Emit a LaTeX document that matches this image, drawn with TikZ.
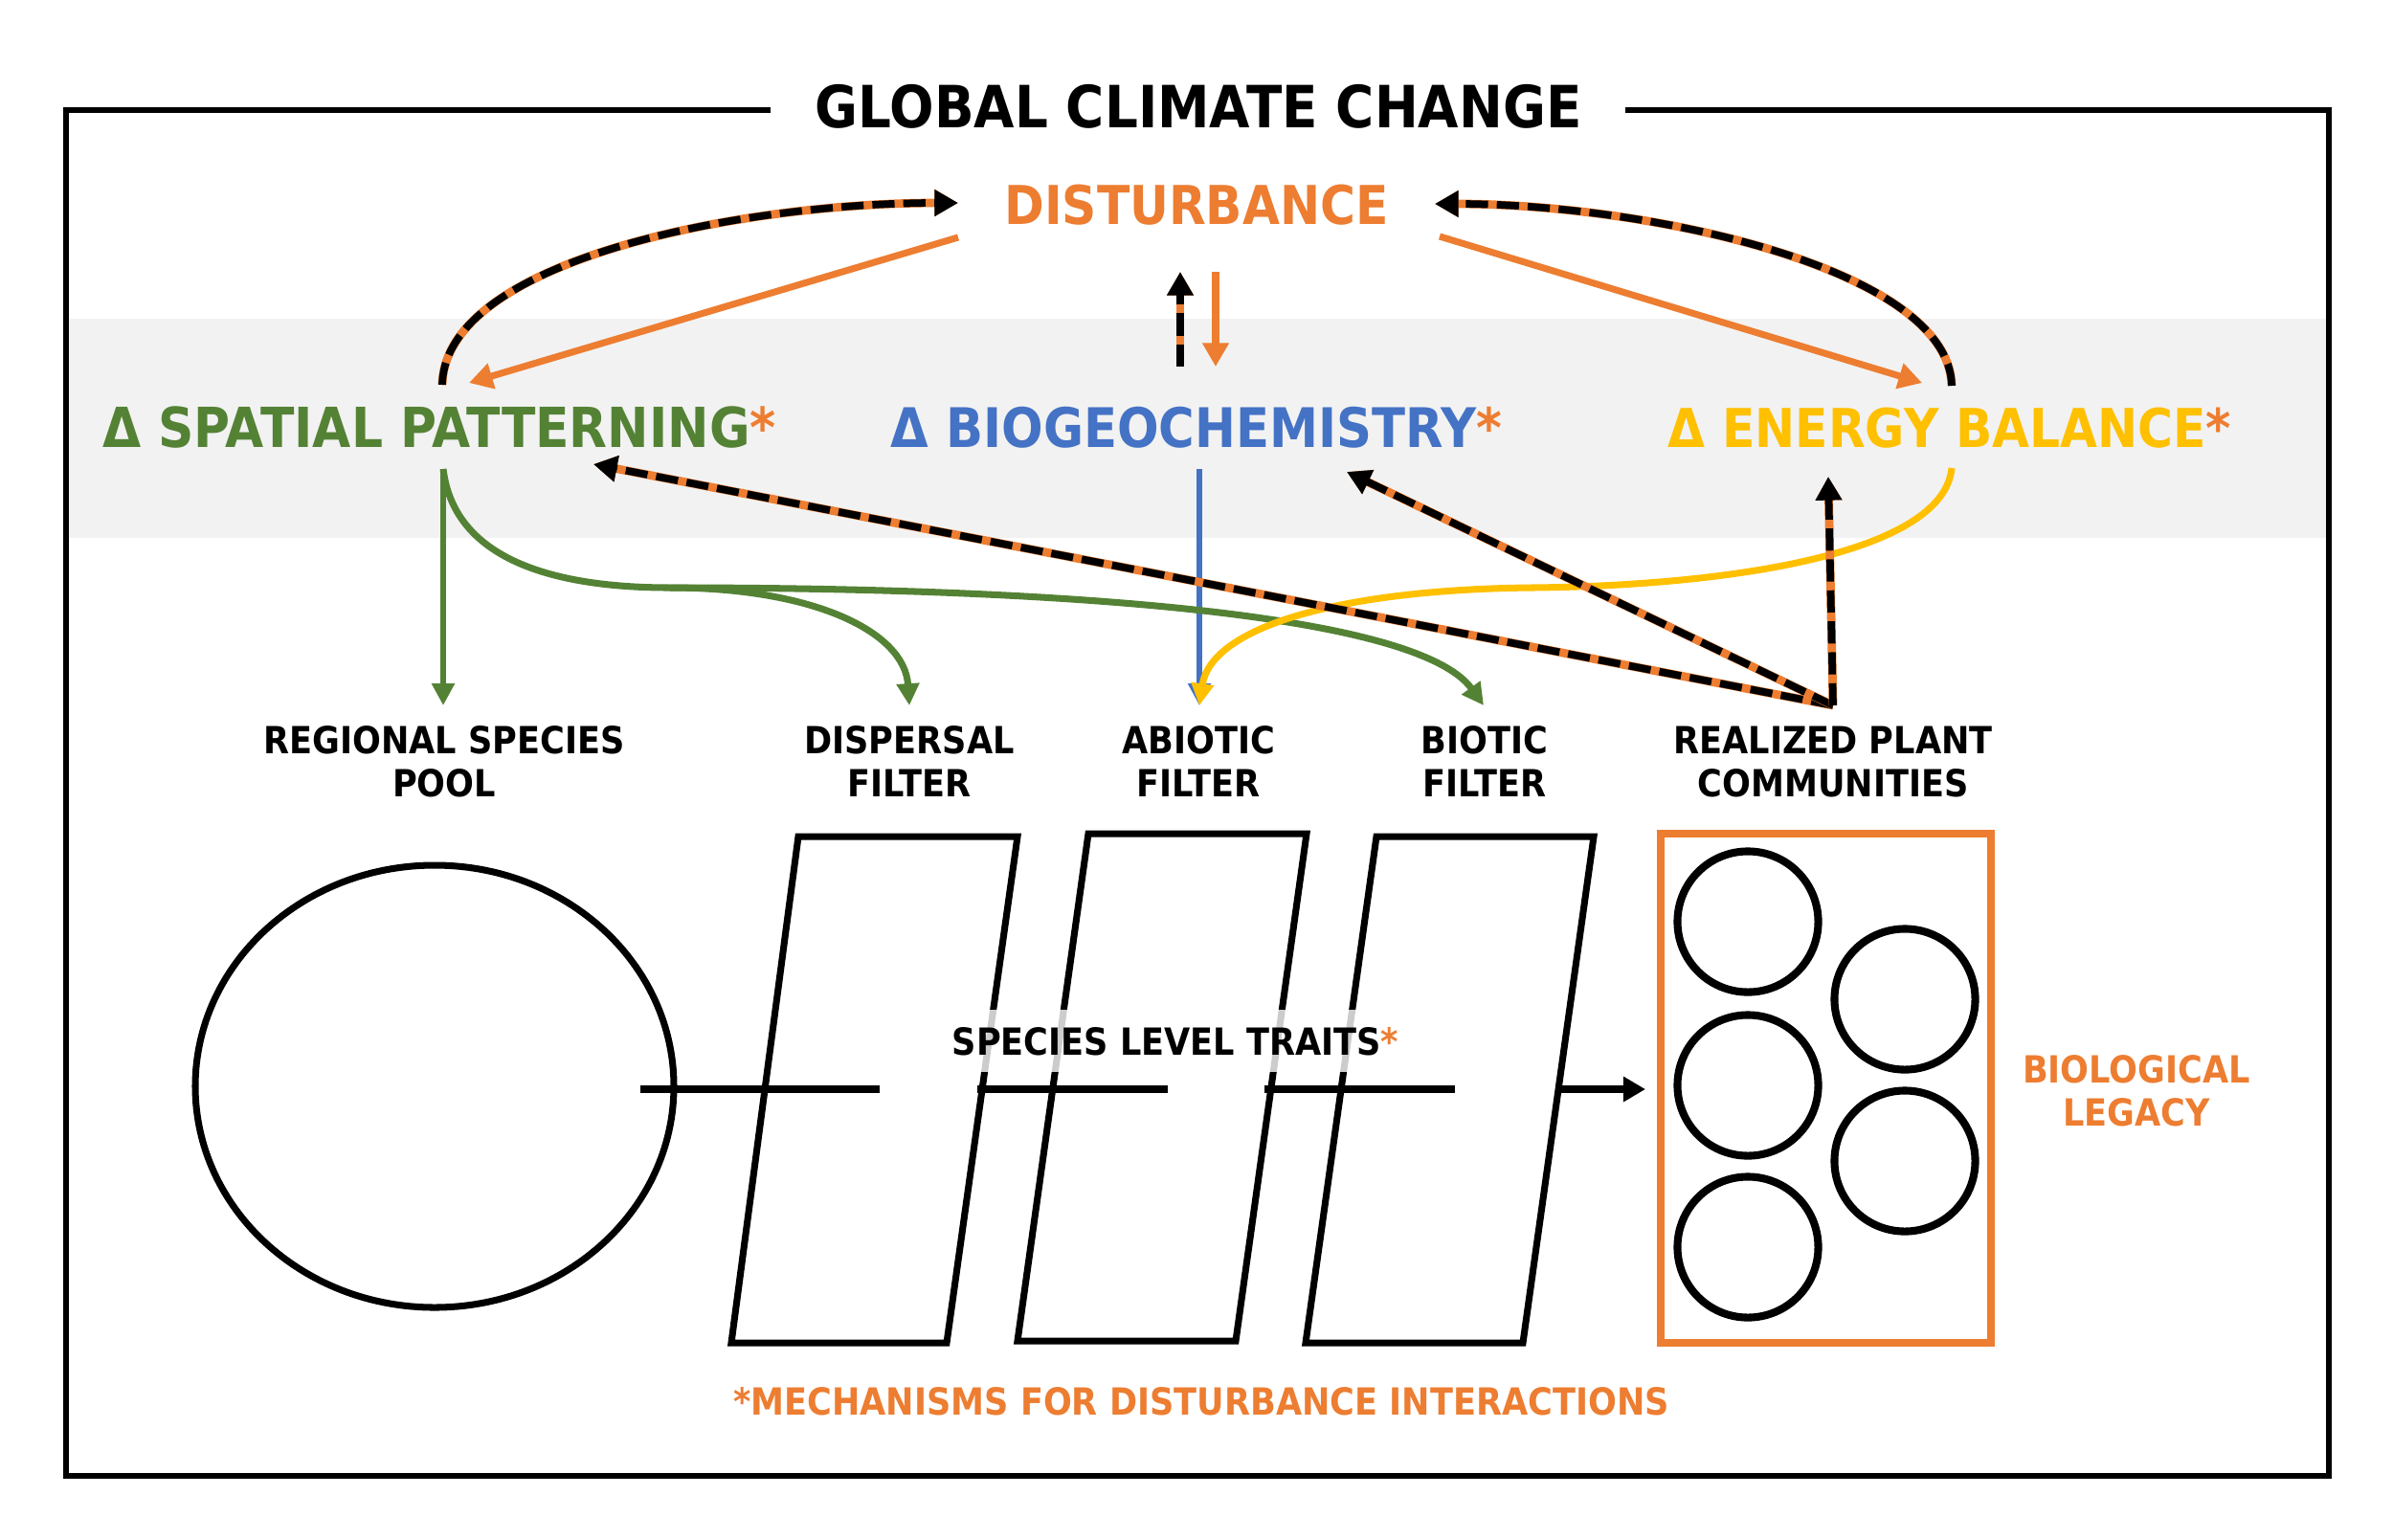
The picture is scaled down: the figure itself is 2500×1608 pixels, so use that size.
\documentclass[tikz,border=0pt]{standalone}
\usepackage{fontspec}
\newfontfamily\lblfont{DejaVu Sans}[FakeStretch=0.9]
\usetikzlibrary{arrows.meta}
\definecolor{dorange}{HTML}{ED7D31}
\definecolor{dgreen}{HTML}{548235}
\definecolor{dblue}{HTML}{4472C4}
\definecolor{dyellow}{HTML}{FFC000}
\definecolor{bandgray}{HTML}{F2F2F2}
\newcommand\fsTitle{\fontsize{17.3pt}{20pt}\selectfont}
\newcommand\fsHead{\fontsize{15.9pt}{19pt}\selectfont}
\newcommand\fsSmall{\fontsize{11.1pt}{12.8pt}\selectfont}
\tikzset{
  lbl/.style={inner sep=0pt, font=\lblfont\bfseries},
  small/.style={lbl, font=\lblfont\bfseries\fsSmall, align=center, anchor=north},
  head/.style={lbl, font=\lblfont\bfseries\fsHead, anchor=base},
  heavytip/.style={-{Triangle[width=7.5pt,length=7pt]}},
  lighttip/.style={-{Triangle[width=6.5pt,length=6.5pt]}},
  dsh/.style={line width=2.5pt, draw=dorange, heavytip,
    postaction={draw=black, line width=2.2pt, dash pattern=on 6.6pt off 2.6pt}},
  oarr/.style={draw=dorange, line width=2pt, heavytip},
  garr/.style={draw=dgreen, line width=2pt, lighttip},
  filt/.style={draw=black, line width=2pt, line join=miter},
  trait/.style={draw=black, line width=2.3pt},
  comm/.style={circle, draw=black, line width=2.3pt, minimum size=1.47cm, inner sep=0pt}
}
\begin{document}
\begin{tikzpicture}[x=0.01cm,y=-0.01cm]
\useasboundingbox (0,0) rectangle (2500,1608);
\fill[white] (0,0) rectangle (2500,1608);
\fill[bandgray] (69,333) rectangle (2433,562);
\draw[line width=1.56pt, line join=miter] (805,115) -| (69,1542) -| (2433,115) -- (1698,115);

% texts
\node[lbl, font=\lblfont\bfseries\fsTitle, anchor=base] (title) at (1252,133) {GLOBAL CLIMATE CHANGE};
\node[head, text=dorange] (dist) at (1250,234) {DISTURBANCE};
\node[head, text=dgreen, font=\lblfont\bfseries\fontsize{16.4pt}{19pt}\selectfont] (spat) at (459,467) {Δ SPATIAL PATTERNING\textcolor{dorange}{*}};
\node[head, text=dblue, font=\lblfont\bfseries\fontsize{16.2pt}{19pt}\selectfont] (bgc) at (1250,467) {Δ BIOGEOCHEMISTRY\textcolor{dorange}{*}};
\node[head, text=dyellow] (ebal) at (2037,467) {Δ ENERGY BALANCE\textcolor{dorange}{*}};

\node[small] (pool) at (464,758) {REGIONAL SPECIES\\POOL};
\node[small] (disp) at (950,758) {DISPERSAL\\FILTER};
\node[small] (abio) at (1252,758) {ABIOTIC\\FILTER};
\node[small] (bio) at (1551,758) {BIOTIC\\FILTER};
\node[small] (real) at (1915,758) {REALIZED PLANT\\COMMUNITIES};
\node[small, text=dorange] (leg) at (2232,1102) {BIOLOGICAL\\LEGACY};
\node[lbl, font=\lblfont\bfseries\fsSmall, anchor=base, text=dorange] (mech) at (1255,1478) {*MECHANISMS FOR DISTURBANCE INTERACTIONS};

% bottom shapes
\draw[line width=2pt] (454,1135) ellipse [x radius=250, y radius=231];
\draw[filt] (834,874) -- (1063,874) -- (989,1403) -- (764,1403) -- cycle;
\draw[filt] (1137,871) -- (1365,871) -- (1291,1401) -- (1063,1401) -- cycle;
\draw[filt] (1438,874) -- (1665,874) -- (1591,1403) -- (1364,1403) -- cycle;

\node[lbl, font=\lblfont\bfseries\fsSmall, fill=white, fill opacity=0.8, text opacity=1,
      inner xsep=2pt, inner ysep=5pt, anchor=base] (traits) at (1228,1102) {SPECIES LEVEL TRAITS\textcolor{dorange}{*}};

\node[draw=dorange, line width=2.3pt, inner sep=0pt, minimum width=3.45cm, minimum height=5.32cm] (rbox) at (1907.5,1137) {};
\node[comm] (c1) at (1826,963) {};
\node[comm] (c2) at (1990,1044) {};
\node[comm] (c3) at (1826,1134) {};
\node[comm] (c4) at (1990,1213) {};
\node[comm] (c5) at (1826,1303) {};

\draw[trait] (669,1138) -- (919,1138);
\draw[trait] (1021,1138) -- (1220,1138);
\draw[trait] (1321,1138) -- (1520,1138);
\coordinate (trS) at (1628,1138);
\coordinate (trE) at (1719,1138);
\draw[trait, -{Triangle[width=7.2pt,length=6.6pt]}] (trS) -- (trE);

% attach points
\coordinate (spTop) at (462,402);
\coordinate (spBot) at (463,490);
\coordinate (spIn) at (620,485);
\coordinate (spO) at (490,400);
\coordinate (ebTop) at (2039,403);
\coordinate (ebBot) at (2039,489);
\coordinate (ebO) at (2008,400);
\coordinate (ebIn) at (1910,498);
\coordinate (bgBot) at (1253,490);
\coordinate (bgIn) at (1407,493);
\coordinate (bgUp) at (1233,383);
\coordinate (bgDn) at (1270,383);
\coordinate (dL) at (1001,212);
\coordinate (dLo) at (1001,248);
\coordinate (dR) at (1499,213);
\coordinate (dRo) at (1504,247);
\coordinate (dUp) at (1233,284);
\coordinate (dDn) at (1270,284);
\coordinate (poolT) at (463,737);
\coordinate (dispT) at (950,737);
\coordinate (abioT) at (1253,737);
\coordinate (bioT) at (1550,737);
\coordinate (realT) at (1915,737);
\coordinate (br) at (700,614);

% connectors
\draw[draw=dblue, line width=1.5pt, lighttip] (bgBot) -- (abioT);
\draw[garr, line width=1.6pt] (spBot) -- (poolT);
\draw[garr] (spBot) .. controls (475,590) and (590,614) .. (br) .. controls (850,614) and (945,660) .. (dispT);
\draw[garr] (br) .. controls (1100,614) and (1480,640) .. (bioT);
\draw[draw=dyellow, line width=2pt, lighttip] (ebBot) .. controls (2030,580) and (1800,612) .. (1600,614) .. controls (1400,616) and (1265,655) .. (abioT);

\draw[oarr] (dLo) -- (spO);
\draw[oarr] (dRo) -- (ebO);
\draw[oarr, line width=2.3pt] (dDn) -- (bgDn);
\draw[dsh] (bgUp) -- (dUp);
\draw[dsh] (spTop) .. controls (465,270) and (780,212) .. (dL);
\draw[dsh] (ebTop) .. controls (2036,280) and (1720,213) .. (dR);
\draw[dsh] (realT) -- (spIn);
\draw[dsh] (realT) -- (bgIn);
\draw[dsh] (realT) -- (ebIn);
\end{tikzpicture}
\end{document}
